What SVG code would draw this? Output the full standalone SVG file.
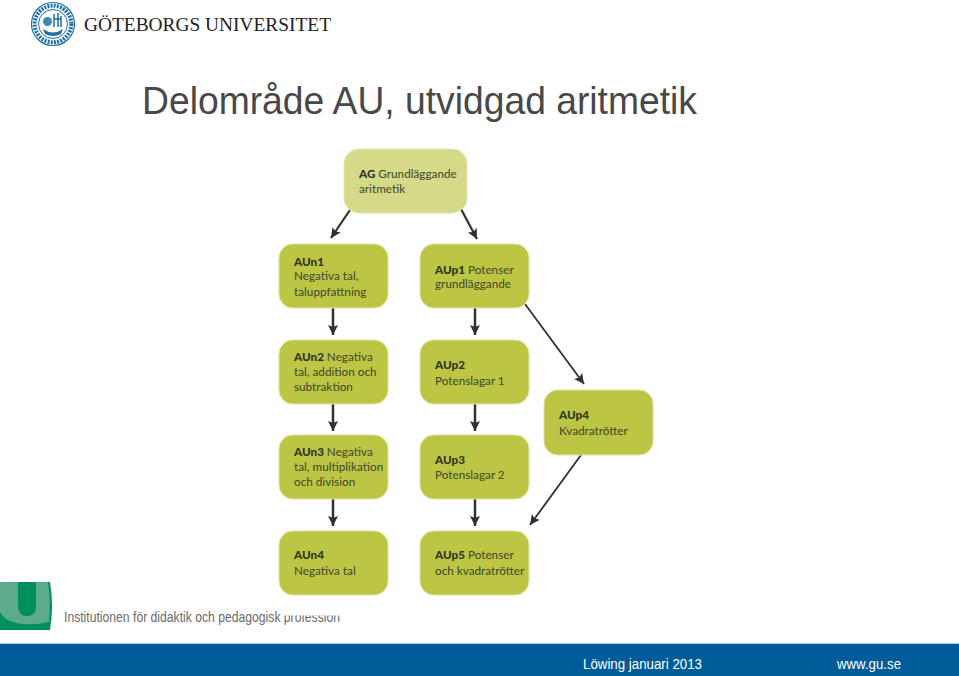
<svg xmlns="http://www.w3.org/2000/svg" width="959" height="676" viewBox="0 0 959 676">
<style>
.n{fill:#bdc545;stroke:#dfe29a;stroke-width:1}
.t{font-family:Lato,"Liberation Sans",sans-serif;font-size:11.700px;fill:#46502a;font-weight:500}
.b{font-weight:900;fill:#2e3620}
.c{fill:none;stroke:#2f3030}
</style>
<defs>
<marker id="a" markerUnits="userSpaceOnUse" markerWidth="12" markerHeight="12" refX="10" refY="5.500" orient="auto"><path d="M0 0.500L10 5.500L0 10.500L2 5.500Z" fill="#2f3030"/></marker>
</defs>
<rect width="959" height="676" fill="#fff"/>
<g id="header">
<g id="seal-logo">
<circle cx="53" cy="24" r="21.500" fill="#fff" stroke="#1d6fa5" stroke-width="1.200"/>
<circle cx="53" cy="24" r="18.300" fill="none" stroke="#1d6fa5" stroke-width="4" stroke-dasharray="2 1.200"/>
<circle cx="53" cy="24" r="14.500" fill="#fff" stroke="#1d6fa5" stroke-width="1"/>
<path d="M43 29Q53 36 63 29L61 34Q53 38 45 34Z" fill="#1d6fa5"/>
<circle cx="47.500" cy="21.500" r="4.500" fill="#3d86b5"/>
<path d="M54 14v13M58 13v14M54 19h7M61 16v11" fill="none" stroke="#1d6fa5" stroke-width="1.500"/>
</g>
<text x="84" y="31" font-family="Liberation Serif, serif" font-size="19.600" fill="#222" textLength="247" lengthAdjust="spacingAndGlyphs">GÖTEBORGS UNIVERSITET</text>
<text x="142" y="114" font-family="Liberation Sans, Arial, sans-serif" font-size="38.500" fill="#484848" textLength="555" lengthAdjust="spacingAndGlyphs">Delområde AU, utvidgad aritmetik</text>
</g>
<g id="connectors">
<path class="c" stroke-width="2.200" marker-end="url(#a)" d="M350 210L331 238"/>
<path class="c" stroke-width="2.200" marker-end="url(#a)" d="M461 209L477 239"/>
<path class="c" stroke-width="2.500" marker-end="url(#a)" d="M333 308V335"/>
<path class="c" stroke-width="2.500" marker-end="url(#a)" d="M475 308V335"/>
<path class="c" stroke-width="2.500" marker-end="url(#a)" d="M333 404V431"/>
<path class="c" stroke-width="2.500" marker-end="url(#a)" d="M475 404V431"/>
<path class="c" stroke-width="2.500" marker-end="url(#a)" d="M333 499V526"/>
<path class="c" stroke-width="2.500" marker-end="url(#a)" d="M475 499V526"/>
<path class="c" stroke-width="1.800" marker-end="url(#a)" d="M525 304L584 384"/>
<path class="c" stroke-width="1.800" marker-end="url(#a)" d="M581 455L530 525"/>
</g>
<g id="AG"><rect x="344" y="149" width="123" height="64" rx="15" fill="#d5da88" stroke="#e4e7b0"/>
<text class="t" x="359" y="178"><tspan class="b">AG</tspan> Grundläggande</text><text class="t" x="359" y="193">aritmetik</text></g>
<g id="AUn1"><rect class="n" x="279" y="244" width="109" height="64" rx="14"/>
<text class="t b" x="294" y="266">AUn1</text><text class="t" x="294" y="280">Negativa tal,</text><text class="t" x="294" y="296">taluppfattning</text></g>
<g id="AUp1"><rect class="n" x="420" y="244" width="109" height="64" rx="14"/>
<text class="t" x="435" y="274"><tspan class="b">AUp1</tspan> Potenser</text><text class="t" x="435" y="288">grundläggande</text></g>
<g id="AUn2"><rect class="n" x="279" y="340" width="109" height="64" rx="14"/>
<text class="t" x="294" y="361"><tspan class="b">AUn2</tspan> Negativa</text><text class="t" x="294" y="376">tal, addition och</text><text class="t" x="294" y="391">subtraktion</text></g>
<g id="AUp2"><rect class="n" x="420" y="340" width="109" height="64" rx="14"/>
<text class="t b" x="435" y="369">AUp2</text><text class="t" x="435" y="385">Potenslagar 1</text></g>
<g id="AUp4"><rect class="n" x="544" y="390" width="109" height="65" rx="14"/>
<text class="t b" x="559" y="419">AUp4</text><text class="t" x="559" y="435">Kvadratrötter</text></g>
<g id="AUn3"><rect class="n" x="279" y="435" width="109" height="64" rx="14"/>
<text class="t" x="294" y="456"><tspan class="b">AUn3</tspan> Negativa</text><text class="t" x="294" y="471">tal, multiplikation</text><text class="t" x="294" y="486">och division</text></g>
<g id="AUp3"><rect class="n" x="420" y="435" width="109" height="64" rx="14"/>
<text class="t b" x="435" y="464">AUp3</text><text class="t" x="435" y="479">Potenslagar 2</text></g>
<g id="AUn4"><rect class="n" x="279" y="531" width="109" height="64" rx="14"/>
<text class="t b" x="294" y="559">AUn4</text><text class="t" x="294" y="575">Negativa tal</text></g>
<g id="AUp5"><rect class="n" x="420" y="531" width="109" height="64" rx="14"/>
<text class="t" x="435" y="559"><tspan class="b">AUp5</tspan> Potenser</text><text class="t" x="435" y="575">och kvadratrötter</text></g>
<g id="footer">
<path d="M0 582H50Q54 606 50 630H0Z" fill="#008f5d"/>
<path d="M0 582H48Q51 602 49 622Q25 627 10 621Q3 618 0 612Z" fill="#5cab8c"/>
<path d="M18 582H36V606Q36 616 27 616Q18 616 18 606Z" fill="#008f5d"/>
<text x="64" y="622" font-family="Liberation Sans, Arial, sans-serif" font-size="14" fill="#6a6a6a" textLength="276" lengthAdjust="spacingAndGlyphs">Institutionen för didaktik och pedagogisk profession</text>
<rect x="282" y="600" width="60" height="15.500" fill="#fff"/>
<rect y="643" width="959" height="1" fill="#a9cfe6"/>
<rect y="644" width="959" height="32" fill="#005b99"/>
<text x="583" y="669" font-family="Liberation Sans, Arial, sans-serif" font-size="14" fill="#fff" textLength="119" lengthAdjust="spacingAndGlyphs">Löwing januari 2013</text>
<text x="837" y="669" font-family="Liberation Sans, Arial, sans-serif" font-size="14" fill="#fff" textLength="64" lengthAdjust="spacingAndGlyphs">www.gu.se</text>
</g>
</svg>
